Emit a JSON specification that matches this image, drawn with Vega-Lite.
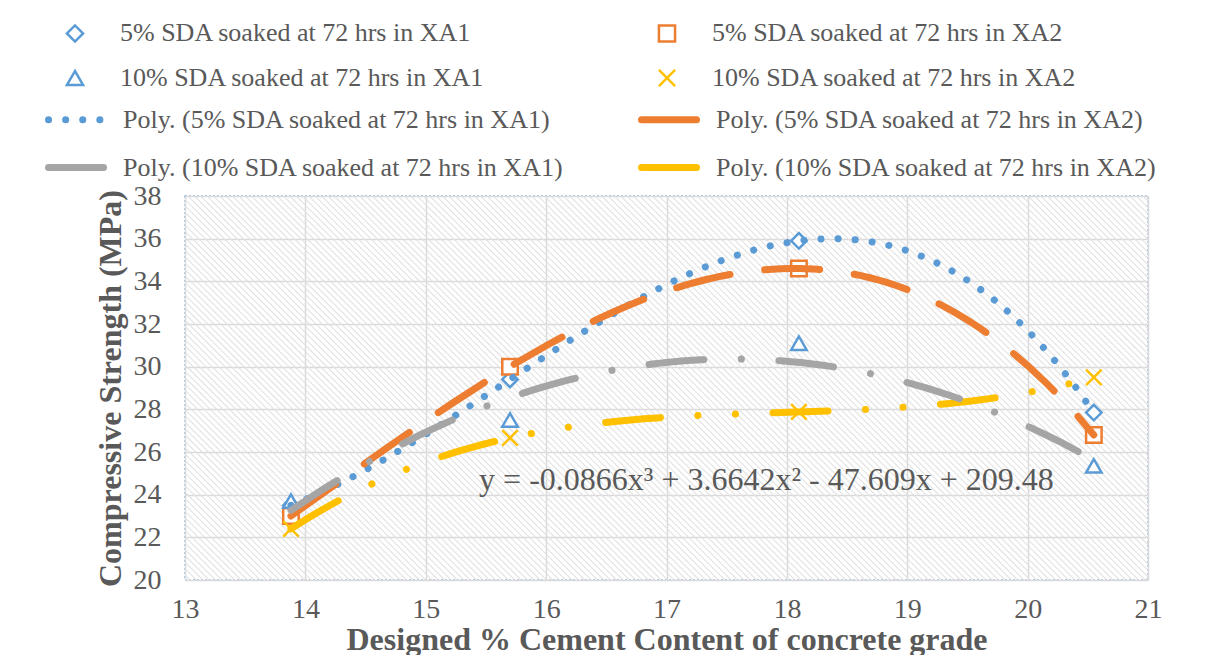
{
  "$schema": "https://vega.github.io/schema/vega-lite/v6.json",
  "width": 963,
  "height": 384,
  "autosize": {"type": "none"},
  "padding": {"left": 185, "top": 196, "right": 61, "bottom": 75},
  "background": "white",
  "config": {
    "font": "Liberation Serif",
    "view": {"stroke": "#8fb8e0", "strokeDash": [2, 2], "strokeWidth": 1.5},
    "axis": {
      "grid": true,
      "gridColor": "#d9d9d9",
      "gridWidth": 1.5,
      "domain": false,
      "ticks": false,
      "labelFlush": false,
      "labelFont": "Liberation Serif",
      "labelFontSize": 28,
      "labelColor": "#595959",
      "titleFont": "Liberation Serif",
      "titleFontWeight": "bold",
      "titleColor": "#595959"
    },
    "legend": {
      "labelFont": "Liberation Serif",
      "labelFontSize": 26,
      "labelColor": "#595959",
      "labelLimit": 0,
      "padding": 0
    }
  },
  "datasets": {
    "strength": [
      {"series": "5% SDA soaked at 72 hrs in XA1", "trend": "Poly. (5% SDA soaked at 72 hrs in XA1)", "cement": 13.88, "strength": 23.5},
      {"series": "5% SDA soaked at 72 hrs in XA1", "trend": "Poly. (5% SDA soaked at 72 hrs in XA1)", "cement": 15.7, "strength": 29.4},
      {"series": "5% SDA soaked at 72 hrs in XA1", "trend": "Poly. (5% SDA soaked at 72 hrs in XA1)", "cement": 18.1, "strength": 35.9},
      {"series": "5% SDA soaked at 72 hrs in XA1", "trend": "Poly. (5% SDA soaked at 72 hrs in XA1)", "cement": 20.55, "strength": 27.85},
      {"series": "5% SDA soaked at 72 hrs in XA2", "trend": "Poly. (5% SDA soaked at 72 hrs in XA2)", "cement": 13.88, "strength": 23.0},
      {"series": "5% SDA soaked at 72 hrs in XA2", "trend": "Poly. (5% SDA soaked at 72 hrs in XA2)", "cement": 15.7, "strength": 30.0},
      {"series": "5% SDA soaked at 72 hrs in XA2", "trend": "Poly. (5% SDA soaked at 72 hrs in XA2)", "cement": 18.1, "strength": 34.6},
      {"series": "5% SDA soaked at 72 hrs in XA2", "trend": "Poly. (5% SDA soaked at 72 hrs in XA2)", "cement": 20.55, "strength": 26.8},
      {"series": "10% SDA soaked at 72 hrs in XA1", "trend": "Poly. (10% SDA soaked at 72 hrs in XA1)", "cement": 13.88, "strength": 23.7},
      {"series": "10% SDA soaked at 72 hrs in XA1", "trend": "Poly. (10% SDA soaked at 72 hrs in XA1)", "cement": 15.7, "strength": 27.5},
      {"series": "10% SDA soaked at 72 hrs in XA1", "trend": "Poly. (10% SDA soaked at 72 hrs in XA1)", "cement": 18.1, "strength": 31.1},
      {"series": "10% SDA soaked at 72 hrs in XA1", "trend": "Poly. (10% SDA soaked at 72 hrs in XA1)", "cement": 20.55, "strength": 25.35},
      {"series": "10% SDA soaked at 72 hrs in XA2", "trend": "Poly. (10% SDA soaked at 72 hrs in XA2)", "cement": 13.88, "strength": 22.4},
      {"series": "10% SDA soaked at 72 hrs in XA2", "trend": "Poly. (10% SDA soaked at 72 hrs in XA2)", "cement": 15.7, "strength": 26.66},
      {"series": "10% SDA soaked at 72 hrs in XA2", "trend": "Poly. (10% SDA soaked at 72 hrs in XA2)", "cement": 18.1, "strength": 27.88},
      {"series": "10% SDA soaked at 72 hrs in XA2", "trend": "Poly. (10% SDA soaked at 72 hrs in XA2)", "cement": 20.55, "strength": 29.5}
    ]
  },
  "layer": [
    {
      "description": "diagonal hatch behind the plot area: one wide dashed rule, clipped",
      "data": {"values": [{}]},
      "mark": {"type": "rule", "clip": true, "stroke": "#e2e2e2", "strokeWidth": 1100, "strokeDash": [1.1, 3.4], "strokeCap": "butt"},
      "encoding": {
        "x": {"datum": 14.063, "type": "quantitative", "scale": {"domain": [13, 21], "nice": false, "zero": false},
          "axis": {"title": "Designed % Cement Content of concrete grade", "values": [13, 14, 15, 16, 17, 18, 19, 20, 21], "format": "d", "labelPadding": 15, "titlePadding": 1, "titleFontSize": 32}},
        "y": {"datum": 12.42, "type": "quantitative", "scale": {"domain": [20, 38], "nice": false, "zero": false},
          "axis": {"title": "Compressive Strength (MPa)", "values": [20, 22, 24, 26, 28, 30, 32, 34, 36, 38], "format": "d", "labelPadding": 24, "titlePadding": 6, "titleFontSize": 32}},
        "x2": {"datum": 19.937},
        "y2": {"datum": 45.58}
      }
    },
    {
      "data": {"name": "strength"},
      "mark": {"type": "point", "filled": false, "fill": "white", "strokeWidth": 2.5, "size": 240, "opacity": 1},
      "encoding": {
        "x": {"field": "cement", "type": "quantitative", "scale": {"domain": [13, 21], "nice": false, "zero": false}},
        "y": {"field": "strength", "type": "quantitative", "scale": {"domain": [20, 38], "nice": false, "zero": false}},
        "color": {
          "field": "series", "type": "nominal",
          "scale": {
            "domain": ["5% SDA soaked at 72 hrs in XA1", "5% SDA soaked at 72 hrs in XA2", "10% SDA soaked at 72 hrs in XA1", "10% SDA soaked at 72 hrs in XA2"],
            "range": ["#5B9BD5", "#ED7D31", "#5B9BD5", "#FFC000"]
          },
          "legend": {"title": null, "orient": "none", "direction": "horizontal", "legendX": -123, "legendY": -176, "columns": 2, "columnPadding": 168, "rowPadding": 17, "symbolSize": 260, "symbolStrokeWidth": 2.5, "symbolFillColor": "white", "labelOffset": 32, "labelFont": "Liberation Serif", "labelFontSize": 26, "labelColor": "#595959"}
        },
        "shape": {
          "field": "series", "type": "nominal",
          "scale": {
            "domain": ["5% SDA soaked at 72 hrs in XA1", "5% SDA soaked at 72 hrs in XA2", "10% SDA soaked at 72 hrs in XA1", "10% SDA soaked at 72 hrs in XA2"],
            "range": ["diamond", "square", "triangle-up", "M-1,-1L1,1M-1,1L1,-1"]
          },
          "legend": {"title": null, "orient": "none", "direction": "horizontal", "legendX": -123, "legendY": -176, "columns": 2, "columnPadding": 168, "rowPadding": 17, "symbolSize": 260, "symbolStrokeWidth": 2.5, "symbolFillColor": "white", "labelOffset": 32, "labelFont": "Liberation Serif", "labelFontSize": 26, "labelColor": "#595959"}
        }
      }
    },
    {
      "description": "third-order polynomial trend lines",
      "data": {"name": "strength"},
      "transform": [
        {"filter": {"field": "series", "oneOf": ["5% SDA soaked at 72 hrs in XA1", "5% SDA soaked at 72 hrs in XA2", "10% SDA soaked at 72 hrs in XA2"]}},
        {"regression": "strength", "on": "cement", "groupby": ["trend"], "method": "poly", "order": 3}
      ],
      "mark": {"type": "line", "strokeWidth": 7, "strokeCap": "round", "clip": true},
      "encoding": {
        "x": {"field": "cement", "type": "quantitative", "scale": {"domain": [13, 21], "nice": false, "zero": false}},
        "y": {"field": "strength", "type": "quantitative", "scale": {"domain": [20, 38], "nice": false, "zero": false}},
        "stroke": {
          "field": "trend", "type": "nominal",
          "scale": {
            "domain": ["Poly. (5% SDA soaked at 72 hrs in XA1)", "Poly. (5% SDA soaked at 72 hrs in XA2)", "Poly. (10% SDA soaked at 72 hrs in XA1)", "Poly. (10% SDA soaked at 72 hrs in XA2)"],
            "range": ["#5B9BD5", "#ED7D31", "#A5A5A5", "#FFC000"]
          },
          "legend": {"title": null, "orient": "none", "direction": "horizontal", "legendX": -140, "legendY": -110, "columns": 2, "columnPadding": 63, "rowPadding": -22, "symbolType": "stroke", "symbolSize": 3600, "symbolStrokeWidth": 7, "labelOffset": 11, "labelFont": "Liberation Serif", "labelFontSize": 26, "labelColor": "#595959",
            "encode": {"symbols": {"update": {"strokeCap": {"value": "round"}}}}}
        },
        "strokeDash": {
          "field": "trend", "type": "nominal",
          "scale": {
            "domain": ["Poly. (5% SDA soaked at 72 hrs in XA1)", "Poly. (5% SDA soaked at 72 hrs in XA2)", "Poly. (10% SDA soaked at 72 hrs in XA1)", "Poly. (10% SDA soaked at 72 hrs in XA2)"],
            "range": [[0.1, 17], [55, 35], [55, 37.5, 0.1, 37.5], [55, 37.5, 0.1, 37.5, 0.1, 37.5]]
          },
          "legend": {"title": null, "orient": "none", "direction": "horizontal", "legendX": -140, "legendY": -110, "columns": 2, "columnPadding": 63, "rowPadding": -22, "symbolType": "stroke", "symbolSize": 3600, "symbolStrokeWidth": 7, "labelOffset": 11, "labelFont": "Liberation Serif", "labelFontSize": 26, "labelColor": "#595959",
            "encode": {"symbols": {"update": {"strokeCap": {"value": "round"}}}}}
        }
      }
    },
    {
      "description": "second-order polynomial trend line",
      "data": {"name": "strength"},
      "transform": [
        {"filter": {"field": "series", "equal": "10% SDA soaked at 72 hrs in XA1"}},
        {"regression": "strength", "on": "cement", "groupby": ["trend"], "method": "poly", "order": 2}
      ],
      "mark": {"type": "line", "strokeWidth": 7, "strokeCap": "round", "clip": true},
      "encoding": {
        "x": {"field": "cement", "type": "quantitative", "scale": {"domain": [13, 21], "nice": false, "zero": false}},
        "y": {"field": "strength", "type": "quantitative", "scale": {"domain": [20, 38], "nice": false, "zero": false}},
        "stroke": {
          "field": "trend", "type": "nominal",
          "scale": {
            "domain": ["Poly. (5% SDA soaked at 72 hrs in XA1)", "Poly. (5% SDA soaked at 72 hrs in XA2)", "Poly. (10% SDA soaked at 72 hrs in XA1)", "Poly. (10% SDA soaked at 72 hrs in XA2)"],
            "range": ["#5B9BD5", "#ED7D31", "#A5A5A5", "#FFC000"]
          }
        },
        "strokeDash": {
          "field": "trend", "type": "nominal",
          "scale": {
            "domain": ["Poly. (5% SDA soaked at 72 hrs in XA1)", "Poly. (5% SDA soaked at 72 hrs in XA2)", "Poly. (10% SDA soaked at 72 hrs in XA1)", "Poly. (10% SDA soaked at 72 hrs in XA2)"],
            "range": [[0.1, 17], [55, 35], [55, 37.5, 0.1, 37.5], [55, 37.5, 0.1, 37.5, 0.1, 37.5]]
          }
        }
      }
    },
    {
      "data": {"values": [{"equation": "y = -0.0866x³ + 3.6642x² - 47.609x + 209.48"}]},
      "mark": {"type": "text", "font": "Liberation Serif", "fontSize": 32, "color": "#595959", "align": "center", "baseline": "middle"},
      "encoding": {
        "x": {"datum": 17.83, "type": "quantitative"},
        "y": {"datum": 24.69, "type": "quantitative"},
        "text": {"field": "equation"}
      }
    }
  ]
}
